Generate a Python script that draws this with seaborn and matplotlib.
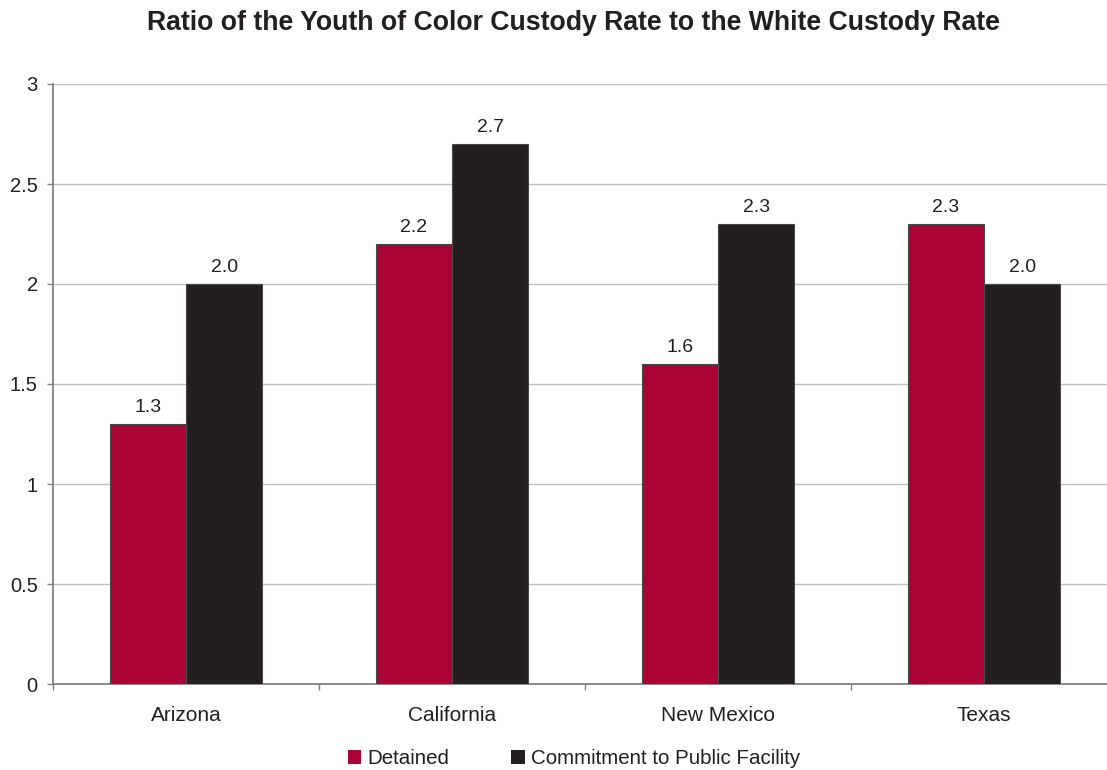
import matplotlib
matplotlib.use("Agg")
import matplotlib.pyplot as plt
import matplotlib.ticker as mticker
from matplotlib.patches import Patch
import seaborn as sns
import pandas as pd

states = ["Arizona", "California", "New Mexico", "Texas"]
detained = [1.3, 2.2, 1.6, 2.3]
commitment = [2.0, 2.7, 2.3, 2.0]
series = ["Detained", "Commitment to Public Facility"]
colors = ["#AA0434", "#231F20"]

df = pd.DataFrame({
    "state": states * 2,
    "ratio": detained + commitment,
    "series": [series[0]] * len(states) + [series[1]] * len(states),
})

sns.set_theme(style="white")
plt.rcParams["font.family"] = ["Liberation Sans", "DejaVu Sans"]

W, H = 1107, 770
fig = plt.figure(figsize=(W / 100, H / 100), dpi=100)
# the plot area runs slightly past the right edge of the figure
ax = fig.add_axes([53 / W, 86 / H, 1064 / W, 600 / H])

sns.barplot(data=df, x="state", y="ratio", hue="series", order=states,
            hue_order=series, palette=colors, saturation=1, width=0.575, gap=0,
            edgecolor="#4a4a4a", linewidth=0.8, legend=False, ax=ax, zorder=3)

# value labels above each bar
for cont in ax.containers:
    ax.bar_label(cont, labels=[f"{v:.1f}" for v in cont.datavalues],
                 padding=5.5, fontsize=14, color="#231F20")

ax.set_ylim(0, 3)
ax.set_xlim(-0.5, 3.5)
ax.yaxis.set_major_locator(mticker.MultipleLocator(0.5))
ax.yaxis.set_major_formatter(mticker.FuncFormatter(lambda v, p: f"{v:g}"))
ax.set_xlabel("")
ax.set_ylabel("")

ax.grid(axis="y", color="#C0C0C0", linewidth=1.0, zorder=0)
ax.set_axisbelow(True)

for side in ["top", "right"]:
    ax.spines[side].set_visible(False)
for side in ["left", "bottom"]:
    ax.spines[side].set_color("#808080")
    ax.spines[side].set_linewidth(1.3)

ax.tick_params(axis="y", which="major", direction="out", length=4, width=1,
               color="#808080", labelsize=14.5, labelcolor="#231F20", pad=7, left=True)
ax.tick_params(axis="x", which="major", length=0, labelsize=15,
               labelcolor="#231F20", pad=16)
ax.xaxis.set_minor_locator(mticker.FixedLocator([-0.5, 0.5, 1.5, 2.5, 3.5]))
ax.tick_params(axis="x", which="minor", direction="out", length=4.5, width=1,
               color="#808080", bottom=True)

fig.suptitle("Ratio of the Youth of Color Custody Rate to the White Custody Rate",
             x=573 / W, y=1 - 23 / H, va="center", fontsize=19.2,
             fontweight="bold", color="#231F20")

handles = [Patch(facecolor=c, edgecolor="none") for c in colors]
fig.legend(handles, series, loc="center", bbox_to_anchor=(574 / W, 1 - 759 / H),
           ncol=2, frameon=False, fontsize=14.8, handlelength=0.65, handleheight=0.65,
           handletextpad=0.3, columnspacing=3.0, labelcolor="#231F20")

fig.savefig("out.png", dpi=100)
